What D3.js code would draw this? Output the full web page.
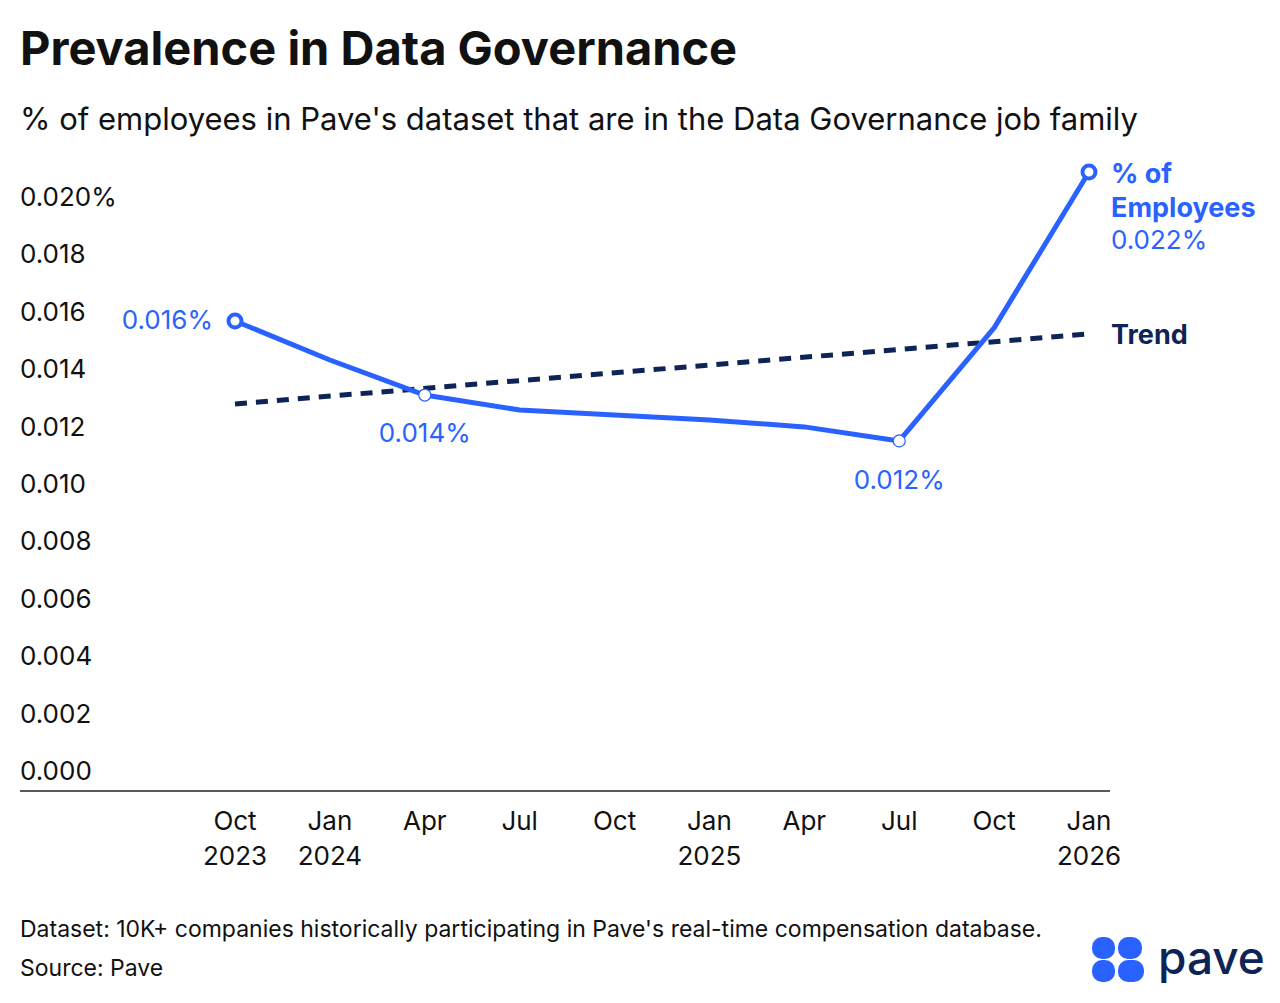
<!DOCTYPE html>
<html><head><meta charset="utf-8">
<script src="https://cdn.jsdelivr.net/npm/d3@7"></script>
<style>body{margin:0;background:#fff;font-family:Inter,"Noto Sans",sans-serif}</style>
</head><body>
<svg id="c" width="1280" height="1003"></svg>
<script>
const months = ["2023-10","2024-01","2024-04","2024-07","2024-10","2025-01","2025-04","2025-07","2025-10","2026-01"];
const tickTop = ["Oct","Jan","Apr","Jul","Oct","Jan","Apr","Jul","Oct","Jan"];
const tickBottom = ["2023","2024","","","","2025","","","","2026"];
const values = [0.01568,0.01432,0.0131,0.01258,0.0124,0.01223,0.01199,0.0115,0.01544,0.02087];
const trend = [0.01279,0.01523];
const yTicks = [0,0.002,0.004,0.006,0.008,0.010,0.012,0.014,0.016,0.018,0.020];

const blue="#2962ff", navy="#0f2456", ink="#111";
const svg=d3.select("#c");
const x=d3.scalePoint().domain(months).range([235,1089]);
const y=d3.scaleLinear().domain([0,0.02]).range([771,197]);

svg.append("text").attr("x",20).attr("y",65).attr("font-size",47).attr("font-weight",700).attr("fill",ink).text("Prevalence in Data Governance");
svg.append("text").attr("x",20).attr("y",130).attr("font-size",31).attr("fill",ink).text("% of employees in Pave's dataset that are in the Data Governance job family");

svg.selectAll(".yl").data(yTicks).join("text").attr("x",20).attr("y",d=>y(d)+9)
 .attr("font-size",26).attr("fill",ink).text(d=>d.toFixed(3)+(d===0.02?"%":""));

svg.append("line").attr("x1",20).attr("x2",1110).attr("y1",791).attr("y2",791).attr("stroke","#222").attr("stroke-width",1.5);
const xt=svg.selectAll(".xt").data(months).join("g");
xt.append("text").attr("x",d=>x(d)).attr("y",830).attr("text-anchor","middle").attr("font-size",26).attr("fill",ink).text((d,i)=>tickTop[i]);
xt.append("text").attr("x",d=>x(d)).attr("y",865).attr("text-anchor","middle").attr("font-size",26).attr("fill",ink).text((d,i)=>tickBottom[i]);

svg.append("line").attr("x1",x(months[0])).attr("x2",x(months[9])).attr("y1",y(trend[0])).attr("y2",y(trend[1]))
 .attr("stroke",navy).attr("stroke-width",5).attr("stroke-dasharray","12,9");

const line=d3.line().x((d,i)=>x(months[i])).y(d=>y(d));
svg.append("path").datum(values).attr("d",line).attr("fill","none").attr("stroke",blue).attr("stroke-width",5).attr("stroke-linejoin","round");

[2,7].forEach(i=>svg.append("circle").attr("cx",x(months[i])).attr("cy",y(values[i])).attr("r",6).attr("fill","#fff").attr("stroke",blue).attr("stroke-width",1.2));
[0,9].forEach(i=>svg.append("circle").attr("cx",x(months[i])).attr("cy",y(values[i])).attr("r",6.5).attr("fill","#fff").attr("stroke",blue).attr("stroke-width",4));

svg.append("text").attr("x",x(months[0])-22).attr("y",y(values[0])+8).attr("text-anchor","end").attr("font-size",26).attr("fill",blue).text("0.016%");
svg.append("text").attr("x",x(months[2])).attr("y",y(values[2])+47).attr("text-anchor","middle").attr("font-size",26).attr("fill",blue).text("0.014%");
svg.append("text").attr("x",x(months[7])).attr("y",y(values[7])+48).attr("text-anchor","middle").attr("font-size",26).attr("fill",blue).text("0.012%");

const ex=1111;
svg.append("text").attr("x",ex).attr("y",183).attr("font-size",27).attr("font-weight",700).attr("fill",blue).text("% of");
svg.append("text").attr("x",ex).attr("y",217).attr("font-size",27).attr("font-weight",700).attr("fill",blue).text("Employees");
svg.append("text").attr("x",ex).attr("y",249).attr("font-size",26).attr("fill",blue).text("0.022%");
svg.append("text").attr("x",ex).attr("y",344).attr("font-size",27).attr("font-weight",700).attr("fill",navy).text("Trend");

svg.append("text").attr("x",20).attr("y",937).attr("font-size",23).attr("fill",ink).text("Dataset: 10K+ companies historically participating in Pave's real-time compensation database.");
svg.append("text").attr("x",20).attr("y",976).attr("font-size",23).attr("fill",ink).text("Source: Pave");

const lg=svg.append("g");
[[1092,937],[1118,937],[1092,960],[1118,960]].forEach(([a,b],k)=>{
 lg.append("rect").attr("x",a).attr("y",b).attr("width",k==1?24:(k==3?26:23)).attr("height",22).attr("rx",10).attr("fill",blue);
});
lg.append("text").attr("x",1158).attr("y",974).attr("font-size",46).attr("font-weight",500).attr("fill",navy).text("pave");
</script>
</body></html>
